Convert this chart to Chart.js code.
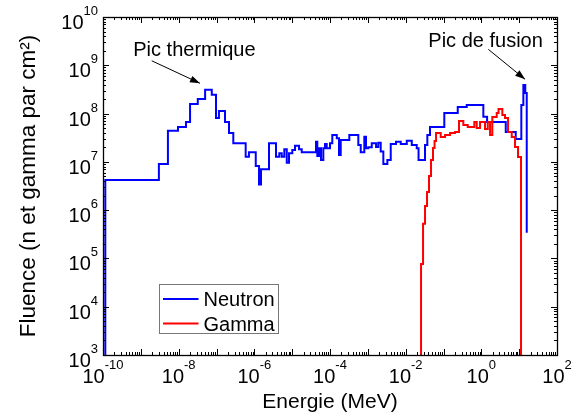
<!DOCTYPE html>
<html>
<head>
<meta charset="utf-8">
<script src="https://cdn.jsdelivr.net/npm/chart.js@4.4.0/dist/chart.umd.min.js"></script>
<style>
    html, body { margin: 0; padding: 0; background: #fff; }
    #wrap { width: 582px; height: 414px; position: relative; }
</style>
</head>
<body>
<div id="wrap"><canvas id="fluenceChart"></canvas></div>
<script>
// Spectres (energie en MeV, fluence en n ou gamma par cm²)
// chaque point = bord gauche du palier
const neutronEnergie = [
    1.15e-10, 1.15e-10, 3.0e-9, 5.2e-9, 9.6e-9, 1.56e-8, 2.0e-8, 3.2e-8, 5.0e-8, 7.5e-8,
    9.7e-8, 1.16e-7, 1.68e-7, 2.14e-7, 2.78e-7, 5.9e-7, 7.2e-7, 1.09e-6, 1.33e-6, 1.5e-6,
    2.44e-6, 3.74e-6, 4.57e-6, 5.3e-6, 6.2e-6, 7.2e-6, 8.25e-6, 1.01e-5, 1.19e-5, 1.52e-5,
    1.79e-5, 4.27e-5, 4.62e-5, 5.22e-5, 5.79e-5, 6.66e-5, 7.38e-5, 8.19e-5, 1.0e-4, 1.15e-4,
    1.51e-4, 1.73e-4, 1.92e-4, 3.24e-4, 5.6e-4, 6.49e-4, 8.07e-4, 8.95e-4, 1.03e-3, 1.27e-3,
    1.65e-3, 1.89e-3, 2.19e-3, 2.57e-3, 3.28e-3, 4.03e-3, 5.56e-3, 7.41e-3, 1.07e-2, 1.45e-2,
    1.96e-2, 2.19e-2, 3.25e-2, 3.74e-2, 4.4e-2, 0.105, 0.238, 0.411, 1.13, 1.42,
    4.42, 8.11, 11.4, 12.9, 14.5, 15.85
];
const neutronFluence = [
    1e3, 4.2e6, 9.0e6, 4.4e7, 5.3e7, 6.7e7, 1.58e8, 2.0e8, 3.1e8, 2.45e8,
    8.1e7, 1.13e8, 6.7e7, 3.96e7, 2.42e7, 1.28e7, 1.58e7, 8.2e6, 3.4e6, 7.0e6,
    2.42e7, 1.28e7, 1.5e7, 1.28e7, 1.82e7, 9.6e6, 1.5e7, 1.76e7, 2.16e7, 1.82e7,
    1.58e7, 2.62e7, 1.32e7, 1.91e7, 1.09e7, 1.91e7, 2.34e7, 1.91e7, 2.42e7, 3.6e7,
    3.08e7, 1.39e7, 2.84e7, 3.6e7, 2.24e7, 1.58e7, 3.32e7, 1.91e7, 2.0e7, 2.42e7,
    2.03e7, 2.5e7, 1.63e7, 9.0e6, 1.09e7, 2.34e7, 2.62e7, 2.34e7, 2.74e7, 2.24e7,
    1.91e7, 1.09e7, 2.24e7, 3.6e7, 5.3e7, 1.03e8, 1.37e8, 1.51e8, 8.6e7, 6.7e7,
    4.16e7, 2.98e7, 1.51e8, 3.9e8, 2.67e8, 3.4e5
];
const gammaEnergie = [
    0.0255, 0.0255, 0.0288, 0.0325, 0.0367, 0.0414, 0.0468, 0.0528, 0.058, 0.0635,
    0.0844, 0.11, 0.149, 0.202, 0.257, 0.334, 0.437, 0.653, 0.756, 0.924,
    1.25, 1.48, 1.70, 1.95, 2.55, 2.85, 3.59, 4.23, 5.08, 6.36,
    7.78, 9.33, 11.2
];
const gammaFluence = [
    1e3, 7.7e4, 5.2e5, 1.22e6, 2.38e6, 5.1e6, 1.09e7, 1.94e7, 2.7e7, 3.96e7,
    3.27e7, 3.6e7, 3.96e7, 4.16e7, 7.0e7, 5.8e7, 5.27e7, 6.7e7, 5.03e7, 6.7e7,
    4.8e7, 6.7e7, 3.6e7, 8.5e7, 1.03e8, 1.24e8, 9.35e7, 8.1e7, 4.16e7, 3.27e7,
    2.03e7, 1.26e7, 1e3
];

// graduations
const xExposants = [-10, -8, -6, -4, -2, 0, 2];
const yExposants = [3, 4, 5, 6, 7, 8, 9, 10];

const FONT = '"Liberation Sans", Arial, Helvetica, sans-serif';

function toPoints(xs, ys) {
    return xs.map((x, i) => ({ x: x, y: ys[i] }));
}

// texte "10" avec exposant
function drawPower(ctx, exp, x, baseY, align) {
    ctx.font = '20px ' + FONT;
    const w1 = ctx.measureText('10').width;
    ctx.font = '13px ' + FONT;
    const w2 = ctx.measureText(String(exp)).width;
    const left = align === 'center' ? x - (w1 + w2) / 2 : x - (w1 + w2);
    ctx.textAlign = 'left';
    ctx.textBaseline = 'alphabetic';
    ctx.font = '20px ' + FONT;
    ctx.fillText('10', left, baseY);
    ctx.font = '13px ' + FONT;
    ctx.fillText(String(exp), left + w1, baseY - 14);
}

function arrow(ctx, x1, y1, x2, y2) {
    ctx.beginPath();
    ctx.moveTo(x1, y1);
    ctx.lineTo(x2, y2);
    ctx.stroke();
    const ang = Math.atan2(y2 - y1, x2 - x1);
    const len = 10, half = 3.5;
    ctx.beginPath();
    ctx.moveTo(x2, y2);
    ctx.lineTo(x2 - len * Math.cos(ang) + half * Math.sin(ang), y2 - len * Math.sin(ang) - half * Math.cos(ang));
    ctx.lineTo(x2 - len * Math.cos(ang) - half * Math.sin(ang), y2 - len * Math.sin(ang) + half * Math.cos(ang));
    ctx.closePath();
    ctx.fill();
}

// annotations en coordonnees donnees
const notes = [
    { text: 'Pic thermique', tx: 6.3e-10, ty: 1.56e9, fromX: 1.94e-9, fromY: 1.24e9, toX: 3.66e-8, toY: 4.24e8 },
    { text: 'Pic de fusion', tx: 0.0397, ty: 2.43e9, fromX: 1.53, fromY: 2.14e9, toX: 14.3, toY: 5.13e8 }
];

const axesPlugin = {
    id: 'axesPlugin',
    afterDraw(chart) {
        const ctx = chart.ctx;
        const a = chart.chartArea;
        const xs = chart.scales.x, ys = chart.scales.y;
        ctx.save();
        ctx.strokeStyle = '#000';
        ctx.fillStyle = '#000';
        ctx.lineWidth = 1;

        // petites et grandes graduations, sur les 4 cotes
        ctx.beginPath();
        for (let k = -10; k <= 2; k++) {
            for (let m = 1; m <= 9; m++) {
                const v = m * Math.pow(10, k);
                if (v > xs.max * 1.0001) break;
                const px = Math.round(xs.getPixelForValue(v)) + 0.5;
                const len = m === 1 ? 6 : 3;
                ctx.moveTo(px, a.bottom); ctx.lineTo(px, a.bottom - len);
                ctx.moveTo(px, a.top); ctx.lineTo(px, a.top + len);
            }
        }
        for (let k = 3; k <= 10; k++) {
            for (let m = 1; m <= 9; m++) {
                const v = m * Math.pow(10, k);
                if (v > ys.max * 1.0001) break;
                const py = Math.round(ys.getPixelForValue(v)) + 0.5;
                const len = m === 1 ? 6 : 3;
                ctx.moveTo(a.left, py); ctx.lineTo(a.left + len, py);
                ctx.moveTo(a.right, py); ctx.lineTo(a.right - len, py);
            }
        }
        ctx.stroke();
        ctx.lineWidth = 1.3;
        ctx.strokeRect(a.left + 0.5, a.top + 0.5, a.right - a.left, a.bottom - a.top);

        // libelles
        xExposants.forEach(e => {
            drawPower(ctx, e, xs.getPixelForValue(Math.pow(10, e)), a.bottom + 28, 'center');
        });
        yExposants.forEach(e => {
            drawPower(ctx, e, a.left - 5, ys.getPixelForValue(Math.pow(10, e)) + 12, 'right');
        });

        // titres des axes
        ctx.font = '21px ' + FONT;
        ctx.textAlign = 'center';
        ctx.textBaseline = 'alphabetic';
        ctx.fillText('Energie (MeV)', (a.left + a.right) / 2, a.bottom + 53);
        ctx.save();
        ctx.translate(35, (a.top + a.bottom) / 2);
        ctx.rotate(-Math.PI / 2);
        ctx.font = '22.5px ' + FONT;
        ctx.fillText('Fluence (n et gamma par cm²)', 0, 0);
        ctx.restore();

        // annotations
        ctx.lineWidth = 1;
        notes.forEach(n => {
            ctx.font = '20px ' + FONT;
            ctx.textAlign = 'left';
            ctx.fillText(n.text, xs.getPixelForValue(n.tx), ys.getPixelForValue(n.ty));
            arrow(ctx, xs.getPixelForValue(n.fromX), ys.getPixelForValue(n.fromY),
                xs.getPixelForValue(n.toX), ys.getPixelForValue(n.toY));
        });

        // legende
        const lx = a.left + 56.5, ly = a.top + 267.5;
        ctx.fillStyle = '#fff';
        ctx.fillRect(lx, ly, 119, 49);
        ctx.strokeStyle = '#777';
        ctx.lineWidth = 1;
        ctx.strokeRect(lx, ly, 119, 49);
        chart.data.datasets.forEach((ds, i) => {
            const yy = ly + 14.5 + i * 24.5;
            ctx.strokeStyle = ds.borderColor;
            ctx.lineWidth = 2;
            ctx.beginPath();
            ctx.moveTo(lx + 3.5, yy);
            ctx.lineTo(lx + 39, yy);
            ctx.stroke();
            ctx.fillStyle = '#000';
            ctx.font = '20px ' + FONT;
            ctx.textAlign = 'left';
            ctx.fillText(ds.label, lx + 44, yy + 7);
        });
        ctx.restore();
    }
};

const ctx = document.getElementById('fluenceChart').getContext('2d');
const myChart = new Chart(ctx, {
    type: 'line',
    data: {
        datasets: [{
            label: 'Neutron',
            data: toPoints(neutronEnergie, neutronFluence),
            borderColor: '#0000ff',
            borderWidth: 2,
            stepped: true,
            pointRadius: 0,
            fill: false,
            order: 1
        }, {
            label: 'Gamma',
            data: toPoints(gammaEnergie, gammaFluence),
            borderColor: '#ff0000',
            borderWidth: 2,
            stepped: true,
            pointRadius: 0,
            fill: false,
            order: 0
        }]
    },
    options: {
        responsive: true,
        maintainAspectRatio: false,
        animation: false,
        devicePixelRatio: 1,
        layout: { padding: { top: 17, right: 25, left: 0, bottom: 0 } },
        plugins: {
            legend: { display: false },
            tooltip: { enabled: false }
        },
        scales: {
            x: {
                type: 'logarithmic',
                min: 1e-10,
                max: 1e2,
                grid: { display: false },
                border: { display: false },
                ticks: { display: false },
                afterFit: function (scale) { scale.height = 59; }
            },
            y: {
                type: 'logarithmic',
                min: 1e3,
                max: 1e10,
                grid: { display: false },
                border: { display: false },
                ticks: { display: false },
                afterFit: function (scale) { scale.width = 103; }
            }
        }
    },
    plugins: [axesPlugin]
});
</script>
</body>
</html>
